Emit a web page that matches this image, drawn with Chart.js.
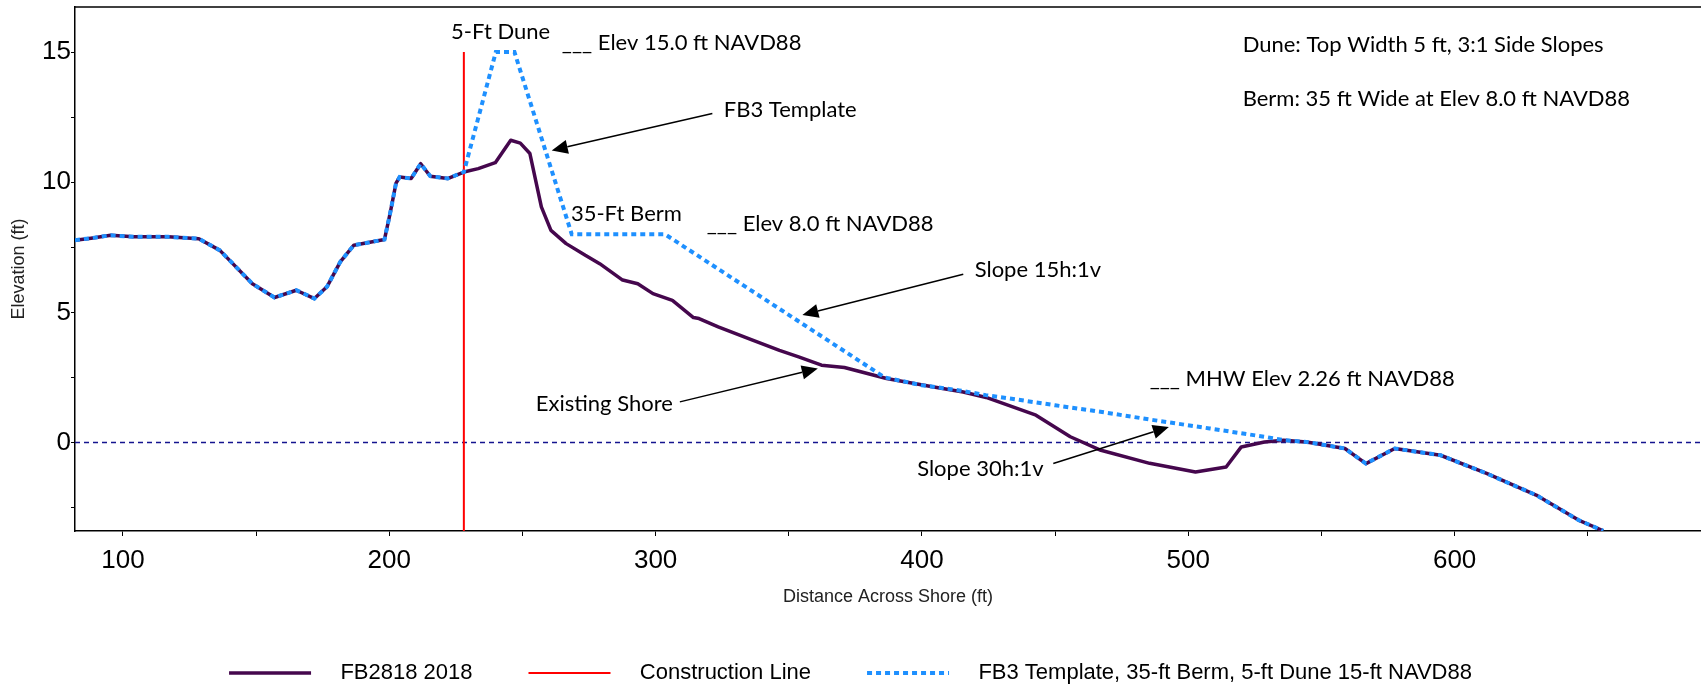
<!DOCTYPE html>
<html>
<head>
<meta charset="utf-8">
<title>FB2818 Profile</title>
<script src="https://cdn.jsdelivr.net/npm/chart.js@4.4.1/dist/chart.umd.min.js"></script>
<style>
    html, body { margin: 0; padding: 0; background: #fff; overflow: hidden; }
    #wrap { position: relative; width: 1701px; height: 694px; }
</style>
</head>
<body>
<div id="wrap"><canvas id="profileChart"></canvas></div>
<script>
// FB2818 2018 survey: distance across shore (ft) / elevation (ft NAVD88)
const existingX = [82, 88, 95.4, 104, 117, 128.5, 136.4, 148.6, 156.9, 165.1, 171.9, 176.6, 181.6, 186.7,
    191.7, 198.2, 200.3, 202.5, 203.9, 208.2, 211.8, 215.4, 221.9, 228, 233.4, 239.8, 245.6, 249.2,
    252.8, 257.1, 260.7, 266.4, 273.6, 279, 287.6, 293.3, 299, 306.3, 314.2, 316.3, 323.5, 336.4,
    346.5, 353.7, 362.3, 370.9, 386.7, 403.9, 415.5, 424.1, 442.8, 455.7, 467.2, 485.5, 502.7,
    514.2, 519.9, 528.6, 535.8, 544.4, 558.8, 566.7, 577.5, 594.7, 612, 630.6, 646.5, 655.8];
const existingY = [7.77, 7.85, 7.96, 7.9, 7.9, 7.83, 7.38, 6.1, 5.57, 5.85, 5.53, 5.98, 6.94, 7.58,
    7.67, 7.8, 8.79, 9.95, 10.2, 10.14, 10.71, 10.23, 10.14, 10.39, 10.52, 10.75, 11.61, 11.5,
    11.1, 9.05, 8.15, 7.64, 7.19, 6.87, 6.24, 6.1, 5.72, 5.46, 4.8, 4.76, 4.44, 3.93,
    3.54, 3.29, 2.97, 2.88, 2.46, 2.14, 1.94, 1.73, 1.05, 0.22, -0.3, -0.8, -1.13,
    -0.94, -0.17, 0.02, 0.09, 0.02, -0.23, -0.81, -0.23, -0.49, -1.19, -2.02, -2.98, -3.39];

// FB3 template between the construction line and the tie-in
const templateX = [228, 240, 247, 268.5, 303.5, 386, 400, 414, 424, 433, 450, 467, 487, 508, 528.6];
const templateY = [10.39, 15, 15, 8, 8, 2.5, 2.2, 2.0, 1.82, 1.69, 1.43, 1.18, 0.86, 0.54, 0.22];
const tieInX = 535.8;

const constructionX = [228, 228];
const constructionY = [-3.4, 15];

const xTicks = [100, 150, 200, 250, 300, 350, 400, 450, 500, 550, 600, 650];
const yTicks = [-2.5, 0, 2.5, 5, 7.5, 10, 12.5, 15];
const xMin = 82, xMax = 692.5;
const yMin = -3.4, yMax = 16.73;

// text notes and arrows, in data units
const notes = [
    { text: '5-Ft Dune', x: 241.8, y: 15.78, align: 'center' },
    { text: '___ Elev 15.0 ft NAVD88', x: 264.8, y: 15.35 },
    { text: 'FB3 Template', x: 325.6, y: 12.76 },
    { text: '35-Ft Berm', x: 268.2, y: 8.79 },
    { text: '___ Elev 8.0 ft NAVD88', x: 319.2, y: 8.41 },
    { text: 'Slope 15h:1v', x: 419.8, y: 6.62 },
    { text: 'Existing Shore', x: 255.0, y: 1.5 },
    { text: '___ MHW Elev 2.26 ft NAVD88', x: 485.5, y: 2.46 },
    { text: 'Slope 30h:1v', x: 398.2, y: -1.0 },
    { text: 'Dune: Top Width 5 ft, 3:1 Side Slopes', x: 520.4, y: 15.26 },
    { text: 'Berm: 35 ft Wide at Elev 8.0 ft NAVD88', x: 520.4, y: 13.21 }
];
const arrows = [
    { from: [321.3, 12.64], to: [261.0, 11.22] },
    { from: [415.5, 6.46], to: [355.1, 4.9] },
    { from: [309.1, 1.56], to: [360.9, 2.84] },
    { from: [449.3, -0.81], to: [492.7, 0.6] }
];

const toPoints = (xs, ys) => xs.map((x, i) => ({ x: x, y: ys[i] }));

const existingPts = toPoints(existingX, existingY);
const templatePts = existingPts.filter(p => p.x < templateX[0])
    .concat(toPoints(templateX, templateY))
    .concat(existingPts.filter(p => p.x >= tieInX));

const notesPlugin = {
    id: 'profileNotes',
    afterDatasetsDraw(chart) {
        const { ctx, chartArea, scales: { x, y } } = chart;
        ctx.save();
        // top frame line
        ctx.strokeStyle = '#000';
        ctx.lineWidth = 1.5;
        ctx.beginPath();
        ctx.moveTo(chartArea.left, chartArea.top);
        ctx.lineTo(chartArea.right, chartArea.top);
        ctx.stroke();

        ctx.fillStyle = '#000';
        ctx.font = '22px Lato, "Open Sans", sans-serif';
        ctx.textBaseline = 'middle';
        notes.forEach(n => {
            ctx.textAlign = n.align || 'left';
            ctx.fillText(n.text, x.getPixelForValue(n.x), y.getPixelForValue(n.y));
        });

        arrows.forEach(a => {
            const x1 = x.getPixelForValue(a.from[0]), y1 = y.getPixelForValue(a.from[1]);
            const x2 = x.getPixelForValue(a.to[0]), y2 = y.getPixelForValue(a.to[1]);
            const ang = Math.atan2(y2 - y1, x2 - x1);
            const head = 16, half = 7;
            const bx = x2 - head * Math.cos(ang), by = y2 - head * Math.sin(ang);
            ctx.lineWidth = 1.5;
            ctx.beginPath();
            ctx.moveTo(x1, y1);
            ctx.lineTo(bx, by);
            ctx.stroke();
            ctx.beginPath();
            ctx.moveTo(x2, y2);
            ctx.lineTo(bx + half * Math.sin(ang), by - half * Math.cos(ang));
            ctx.lineTo(bx - half * Math.sin(ang), by + half * Math.cos(ang));
            ctx.closePath();
            ctx.fill();
        });
        ctx.restore();
    }
};

Chart.defaults.font.family = '"Liberation Sans", Arial, sans-serif';
Chart.defaults.color = '#000';

const ctx = document.getElementById('profileChart').getContext('2d');
window.profileChart = new Chart(ctx, {
    type: 'line',
    data: {
        datasets: [
            {
                label: 'FB2818 2018',
                data: existingPts,
                borderColor: '#45074d',
                backgroundColor: '#45074d',
                borderWidth: 3.5,
                borderJoinStyle: 'round',
                pointRadius: 0,
                order: 2
            },
            {
                label: 'Construction Line',
                data: toPoints(constructionX, constructionY),
                borderColor: '#ff0000',
                backgroundColor: '#ff0000',
                borderWidth: 2,
                pointRadius: 0,
                order: 1
            },
            {
                label: 'FB3 Template, 35-ft Berm, 5-ft Dune 15-ft NAVD88',
                data: templatePts,
                borderColor: '#1e90ff',
                backgroundColor: '#1e90ff',
                borderWidth: 4,
                borderDash: [5, 4],
                pointRadius: 0,
                order: 0
            },
            {
                label: 'zero',
                data: [{ x: xMin, y: 0 }, { x: xMax, y: 0 }],
                borderColor: '#14148f',
                borderWidth: 1.5,
                borderDash: [5, 4],
                pointRadius: 0,
                order: 3
            }
        ]
    },
    options: {
        responsive: true,
        maintainAspectRatio: false,
        animation: false,
        layout: { padding: { top: 7, left: 0, right: 0, bottom: 0 } },
        plugins: {
            tooltip: { enabled: false },
            legend: {
                position: 'bottom',
                labels: {
                    usePointStyle: true,
                    pointStyle: 'line',
                    pointStyleWidth: 82,
                    padding: 56,
                    color: '#000',
                    font: { size: 22 },
                    generateLabels: chart => chart.data.datasets
                        .map((ds, i) => ({
                            text: '   ' + ds.label,
                            datasetIndex: i,
                            fillStyle: ds.borderColor,
                            strokeStyle: ds.borderColor,
                            lineWidth: ds.borderWidth,
                            lineDash: ds.borderDash || [],
                            lineCap: 'butt',
                            pointStyle: 'line',
                            hidden: false
                        }))
                        .filter(it => it.text.trim() !== 'zero')
                }
            }
        },
        scales: {
            x: {
                type: 'linear',
                min: xMin,
                max: xMax,
                afterBuildTicks: axis => { axis.ticks = xTicks.map(v => ({ value: v })); },
                afterFit: axis => {
                    axis.height = 75;
                    axis.paddingLeft = 0;
                    axis.paddingRight = 0;
                },
                ticks: {
                    autoSkip: false,
                    maxRotation: 0,
                    padding: 9,
                    font: { size: 26 },
                    callback: v => (v % 100 === 0 ? v : '')
                },
                grid: { drawOnChartArea: false, drawTicks: true, tickLength: 5, color: '#000' },
                border: { color: '#000', width: 1.5 },
                title: {
                    display: true,
                    text: 'Distance Across Shore (ft)',
                    color: '#222',
                    font: { size: 18 },
                    padding: { top: 0, bottom: -2 }
                }
            },
            y: {
                type: 'linear',
                min: yMin,
                max: yMax,
                afterBuildTicks: axis => { axis.ticks = yTicks.map(v => ({ value: v })); },
                afterFit: axis => {
                    axis.width = 75;
                    axis.paddingTop = 0;
                    axis.paddingBottom = 0;
                },
                ticks: {
                    padding: 0,
                    font: { size: 26 },
                    callback: v => (v % 5 === 0 ? v : '')
                },
                grid: { drawOnChartArea: false, drawTicks: true, tickLength: 4, color: '#000' },
                border: { color: '#000', width: 1.5 },
                title: {
                    display: true,
                    text: 'Elevation (ft)',
                    color: '#222',
                    font: { size: 18 },
                    padding: { top: 8, bottom: 0 }
                }
            }
        }
    },
    plugins: [notesPlugin]
});
</script>
</body>
</html>
